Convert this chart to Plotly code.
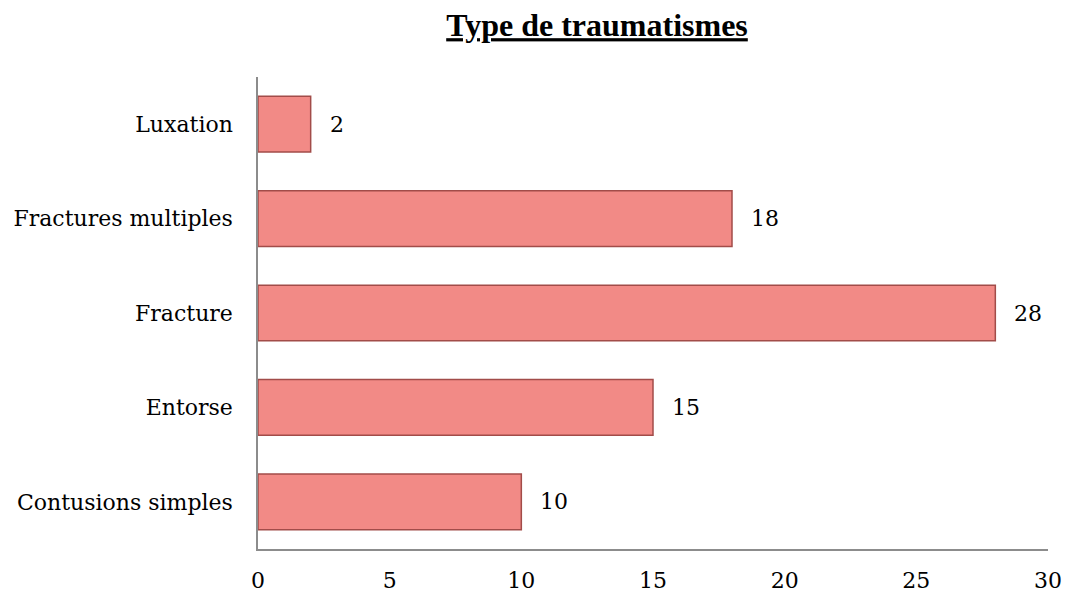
import plotly.graph_objects as go

categories = ["Contusions simples", "Entorse", "Fracture", "Fractures multiples", "Luxation"]
values = [10, 15, 28, 18, 2]
x_ticks = [0, 5, 10, 15, 20, 25, 30]

FONT = "DejaVu Serif"

fig = go.Figure()
fig.add_trace(go.Bar(
    y=categories, x=values, orientation="h", width=0.59,
    marker=dict(color="#F28A86", line=dict(color="#A24C49", width=1.5)),
    hoverinfo="skip",
))
for c, v in zip(categories, values):
    fig.add_annotation(x=v, y=c, text=str(v), showarrow=False, xanchor="left",
                       xshift=17, font=dict(size=22, color="black", family=FONT))

fig.update_layout(
    width=1067, height=598,
    paper_bgcolor="white", plot_bgcolor="white",
    margin=dict(l=258, r=19, t=77, b=49, autoexpand=False),
    showlegend=False,
    font=dict(family=FONT, size=22, color="black"),
    title=dict(text="<b><u>Type de traumatismes</u></b>", x=597/1067, xanchor="center",
               y=1 - 25/598, yanchor="middle",
               font=dict(family="Liberation Serif", size=32, color="black")),
)
fig.update_xaxes(range=[0, 30], tickvals=x_ticks, showgrid=False, zeroline=False,
                 showline=True, linecolor="#8C8C8C", linewidth=1.5, ticks="",
                 automargin=False, tickfont=dict(family=FONT, size=22),
                 ticklabelstandoff=11)
fig.update_yaxes(range=[-0.5, 4.5], categoryorder="array", categoryarray=categories,
                 showgrid=False, zeroline=False, showline=True, linecolor="#8C8C8C",
                 linewidth=1.5, ticks="", automargin=False,
                 tickfont=dict(family=FONT, size=22), ticklabelstandoff=19)
fig.write_html("out.html", config={"displayModeBar": False},
               post_script="document.body.style.margin='0';")
